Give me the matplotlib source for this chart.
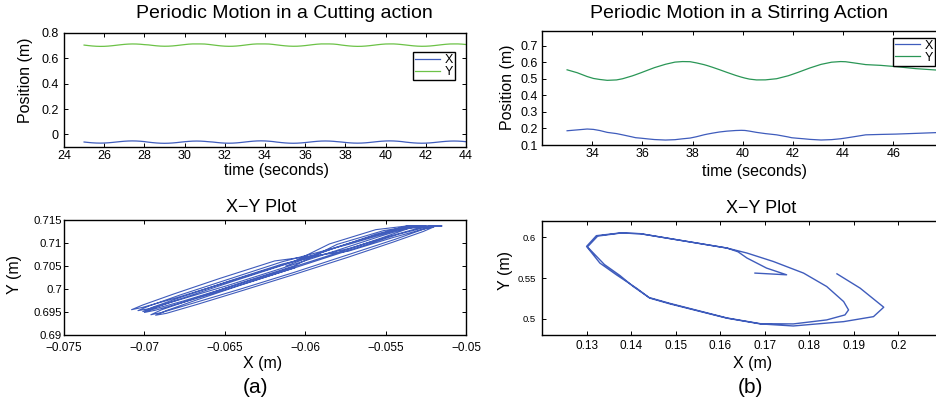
import matplotlib
matplotlib.use("Agg")
import matplotlib.pyplot as plt

plt.rcParams['font.family'] = ['Liberation Sans', 'DejaVu Sans']
plt.rcParams['axes.unicode_minus'] = True

# ---------------- data: cutting action (a) ----------------
cut_t = [25.0, 25.2, 25.4, 25.6, 25.8, 26.0, 26.2, 26.4, 26.6, 26.8, 27.0, 27.2, 27.4, 27.6, 27.8, 28.0,
         28.2, 28.4, 28.6, 28.8, 29.0, 29.2, 29.4, 29.6, 29.8, 30.0, 30.2, 30.4, 30.6, 30.8, 31.0, 31.2,
         31.4, 31.6, 31.8, 32.0, 32.2, 32.4, 32.6, 32.8, 33.0, 33.2, 33.4, 33.6, 33.8, 34.0, 34.2, 34.4,
         34.6, 34.8, 35.0, 35.2, 35.4, 35.6, 35.8, 36.0, 36.2, 36.4, 36.6, 36.8, 37.0, 37.2, 37.4, 37.6,
         37.8, 38.0, 38.2, 38.4, 38.6, 38.8, 39.0, 39.2, 39.4, 39.6, 39.8, 40.0, 40.2, 40.4, 40.6, 40.8,
         41.0, 41.2, 41.4, 41.6, 41.8, 42.0, 42.2, 42.4, 42.6, 42.8, 43.0, 43.2, 43.4, 43.6, 43.8, 44.0,
         44.2]
cut_x = [-0.06065, -0.06396, -0.06677, -0.06864, -0.06930, -0.06864, -0.06677, -0.06396,
         -0.06065, -0.05734, -0.05453, -0.05266, -0.05200, -0.05266, -0.05453, -0.05734,
         -0.06190, -0.06531, -0.06819, -0.07012, -0.07080, -0.07012, -0.06819, -0.06531,
         -0.06190, -0.05849, -0.05561, -0.05368, -0.05300, -0.05368, -0.05561, -0.05849,
         -0.06075, -0.06429, -0.06729, -0.06930, -0.07000, -0.06930, -0.06729, -0.06429,
         -0.06075, -0.05721, -0.05421, -0.05220, -0.05150, -0.05220, -0.05421, -0.05721,
         -0.06145, -0.06488, -0.06778, -0.06972, -0.07040, -0.06972, -0.06778, -0.06488,
         -0.06145, -0.05802, -0.05512, -0.05318, -0.05250, -0.05318, -0.05512, -0.05802,
         -0.06070, -0.06411, -0.06699, -0.06892, -0.06960, -0.06892, -0.06699, -0.06411,
         -0.06070, -0.05729, -0.05441, -0.05248, -0.05180, -0.05248, -0.05441, -0.05729,
         -0.06145, -0.06476, -0.06757, -0.06944, -0.07010, -0.06944, -0.06757, -0.06476,
         -0.06145, -0.05814, -0.05533, -0.05346, -0.05280, -0.05346, -0.05533, -0.05814,
         -0.06120]
cut_y = [0.7046, 0.7009, 0.6976, 0.6953, 0.6943, 0.6947, 0.6966, 0.6996,
         0.7032, 0.7069, 0.7102, 0.7125, 0.7135, 0.7130, 0.7112, 0.7082,
         0.7061, 0.7023, 0.6989, 0.6965, 0.6955, 0.6960, 0.6979, 0.7010,
         0.7047, 0.7085, 0.7119, 0.7137, 0.7137, 0.7137, 0.7129, 0.7098,
         0.7059, 0.7019, 0.6984, 0.6960, 0.6949, 0.6954, 0.6974, 0.7006,
         0.7045, 0.7085, 0.7119, 0.7137, 0.7137, 0.7137, 0.7129, 0.7098,
         0.7059, 0.7020, 0.6987, 0.6963, 0.6953, 0.6957, 0.6977, 0.7007,
         0.7045, 0.7084, 0.7117, 0.7137, 0.7137, 0.7137, 0.7127, 0.7097,
         0.7050, 0.7012, 0.6978, 0.6955, 0.6944, 0.6949, 0.6969, 0.6999,
         0.7036, 0.7075, 0.7108, 0.7132, 0.7137, 0.7137, 0.7118, 0.7088,
         0.7054, 0.7017, 0.6984, 0.6961, 0.6951, 0.6956, 0.6974, 0.7004,
         0.7040, 0.7077, 0.7110, 0.7133, 0.7137, 0.7137, 0.7120, 0.7090,
         0.7050]

# ---------------- data: stirring action (b) ----------------
stir_t = [33.0, 33.4, 33.8, 34.05, 34.3, 34.6, 34.97, 35.21, 35.6, 35.73,
          35.95, 36.23, 36.48, 36.92, 37.3, 37.6, 37.9, 38.16, 38.45, 38.59,
          38.8, 39.07, 39.37, 39.72, 39.94, 40.09, 40.27, 40.55, 40.9, 41.35,
          41.81, 41.95, 42.2, 42.44, 42.68, 43.12, 43.54, 43.9, 44.1, 44.45,
          44.9, 45.5, 46.1, 46.9, 47.7, 48.3]
stir_x = [0.1862, 0.1914, 0.1967, 0.1944, 0.1877, 0.1764, 0.1690, 0.1615, 0.1487, 0.1442,
          0.1412, 0.1367, 0.1330, 0.1300, 0.1322, 0.1375, 0.1420, 0.1502, 0.1615, 0.1660,
          0.1719, 0.1787, 0.1839, 0.1877, 0.1888, 0.1880, 0.1839, 0.1764, 0.1690, 0.1615,
          0.1487, 0.1440, 0.1405, 0.1375, 0.1340, 0.1302, 0.1325, 0.1378, 0.1422, 0.1505,
          0.1615, 0.1640, 0.1660, 0.1704, 0.1749, 0.1678]
stir_y = [0.5551, 0.5376, 0.5143, 0.5028, 0.4967, 0.4914, 0.4939, 0.5009, 0.5184, 0.5254,
          0.5376, 0.5539, 0.5682, 0.5886, 0.6017, 0.6050, 0.6042, 0.5968, 0.5866, 0.5805,
          0.5702, 0.5560, 0.5396, 0.5212, 0.5110, 0.5049, 0.4988, 0.4939, 0.4942, 0.5012,
          0.5190, 0.5262, 0.5395, 0.5530, 0.5665, 0.5880, 0.6012, 0.6050, 0.6040, 0.5965,
          0.5866, 0.5820, 0.5744, 0.5621, 0.5539, 0.5560]

# ---------------- ticks / labels ----------------
tl_xticks = [24, 26, 28, 30, 32, 34, 36, 38, 40, 42, 44]
tl_yticks = [0, 0.2, 0.4, 0.6, 0.8]
tl_ylabels = ['0', '0.2', '0.4', '0.6', '0.8']
tr_xticks = [34, 36, 38, 40, 42, 44, 46]
tr_yticks = [0.1, 0.2, 0.3, 0.4, 0.5, 0.6, 0.7]
tr_ylabels = ['0.1', '0.2', '0.3', '0.4', '0.5', '0.6', '0.7']
bl_xticks = [-0.075, -0.07, -0.065, -0.06, -0.055, -0.05]
bl_xlabels = ['\u22120.075', '\u22120.07', '\u22120.065', '\u22120.06', '\u22120.055', '\u22120.05']
bl_yticks = [0.69, 0.695, 0.7, 0.705, 0.71, 0.715]
bl_ylabels = ['0.69', '0.695', '0.7', '0.705', '0.71', '0.715']
br_xticks = [0.13, 0.14, 0.15, 0.16, 0.17, 0.18, 0.19, 0.2]
br_xlabels = ['0.13', '0.14', '0.15', '0.16', '0.17', '0.18', '0.19', '0.2']
br_yticks = [0.5, 0.55, 0.6]
br_ylabels = ['0.5', '0.55', '0.6']

BLUE = '#3f5cbc'
GREEN_A = '#6cc247'
GREEN_B = '#2a9656'

W, H = 937, 411
fig = plt.figure(figsize=(W / 100, H / 100), dpi=100)


def px_axes(l, t, r, b):
    return fig.add_axes([l / W, 1 - b / H, (r - l) / W, (b - t) / H])


def fx(x):
    return x / W


def fy(y):
    return 1 - y / H


def style(ax, xpad, ypad, xsize=9, ysize=9):
    for s in ax.spines.values():
        s.set_linewidth(1.0)
    ax.tick_params(direction='in', top=True, right=True, length=3, width=0.7)
    ax.tick_params(axis='x', pad=xpad, labelsize=xsize)
    ax.tick_params(axis='y', pad=ypad, labelsize=ysize)


# top-left
ax1 = px_axes(64, 33, 466, 147)
ax1.plot(cut_t, cut_x, color=BLUE, lw=0.9, label='X')
ax1.plot(cut_t, cut_y, color=GREEN_A, lw=0.9, label='Y')
ax1.set_xlim(24, 44)
ax1.set_ylim(-0.1, 0.8)
ax1.set_xticks(tl_xticks)
ax1.set_yticks(tl_yticks)
ax1.set_yticklabels(tl_ylabels)
style(ax1, 2, 4)
leg1 = ax1.legend(loc='upper left', bbox_to_anchor=(fx(413), fy(52.5)),
                  bbox_transform=fig.transFigure, fontsize=9, frameon=True,
                  fancybox=False, framealpha=1, edgecolor='black',
                  borderpad=0.15, labelspacing=0.0, handlelength=2.0,
                  handletextpad=0.4, borderaxespad=0)
leg1.get_frame().set_linewidth(1.0)

# top-right
ax2 = px_axes(542, 31, 943.5, 145)
ax2.plot(stir_t, stir_x, color=BLUE, lw=0.9, label='X')
ax2.plot(stir_t, stir_y, color=GREEN_B, lw=0.9, label='Y')
ax2.set_xlim(32, 48)
ax2.set_ylim(0.1, 0.79)
ax2.set_xticks(tr_xticks)
ax2.set_yticks(tr_yticks)
ax2.set_yticklabels(tr_ylabels)
style(ax2, 2, 3)
leg2 = ax2.legend(loc='upper left', bbox_to_anchor=(fx(892.7), fy(38)),
                  bbox_transform=fig.transFigure, fontsize=9, frameon=True,
                  fancybox=False, framealpha=1, edgecolor='black',
                  borderpad=0.15, labelspacing=0.0, handlelength=2.0,
                  handletextpad=0.4, borderaxespad=0)
leg2.get_frame().set_linewidth(1.0)

# bottom-left
ax3 = px_axes(64, 220, 466, 335)
ax3.plot(cut_x, cut_y, color=BLUE, lw=0.8)
ax3.set_xlim(-0.075, -0.05)
ax3.set_ylim(0.69, 0.715)
ax3.set_xticks(bl_xticks)
ax3.set_xticklabels(bl_xlabels)
ax3.set_yticks(bl_yticks)
ax3.set_yticklabels(bl_ylabels)
style(ax3, 5, 1.5, xsize=8.5, ysize=8.2)

# bottom-right
ax4 = px_axes(542, 220.7, 943, 335.3)
ax4.plot(stir_x, stir_y, color=BLUE, lw=1.0)
ax4.set_xlim(0.12, 0.21)
ax4.set_ylim(0.48, 0.62)
ax4.set_xticks(br_xticks)
ax4.set_xticklabels(br_xlabels)
ax4.set_yticks(br_yticks)
ax4.set_yticklabels(br_ylabels)
style(ax4, 3.5, 4.5, xsize=8.5, ysize=6.8)

# titles and labels placed at their measured positions
fig.text(fx(284.5), fy(14), 'Periodic Motion in a Cutting action', fontsize=14,
         ha='center', va='center')
fig.text(fx(739), fy(14), 'Periodic Motion in a Stirring Action', fontsize=14,
         ha='center', va='center')
fig.text(fx(277), fy(170), 'time (seconds)', fontsize=11.5, ha='center', va='center')
fig.text(fx(755), fy(171.5), 'time (seconds)', fontsize=11.5, ha='center', va='center')
fig.text(fx(25.5), fy(80), 'Position (m)', fontsize=11.5, rotation=90,
         ha='center', va='center')
fig.text(fx(508), fy(87), 'Position (m)', fontsize=11.5, rotation=90,
         ha='center', va='center')
fig.text(fx(261), fy(207.5), 'X\u2212Y Plot', fontsize=13, ha='center', va='center')
fig.text(fx(761.5), fy(208), 'X\u2212Y Plot', fontsize=13, ha='center', va='center')
fig.text(fx(262.5), fy(363.5), 'X (m)', fontsize=11.5, ha='center', va='center')
fig.text(fx(752.5), fy(363.5), 'X (m)', fontsize=11.5, ha='center', va='center')
fig.text(fx(15), fy(275), 'Y (m)', fontsize=11.5, rotation=90, ha='center', va='center')
fig.text(fx(505.5), fy(270), 'Y (m)', fontsize=11.5, rotation=90, ha='center', va='center')
fig.text(fx(256), fy(387), '(a)', fontsize=15, ha='center', va='center')
fig.text(fx(750), fy(387), '(b)', fontsize=15, ha='center', va='center')

fig.savefig('out.png', dpi=100)
